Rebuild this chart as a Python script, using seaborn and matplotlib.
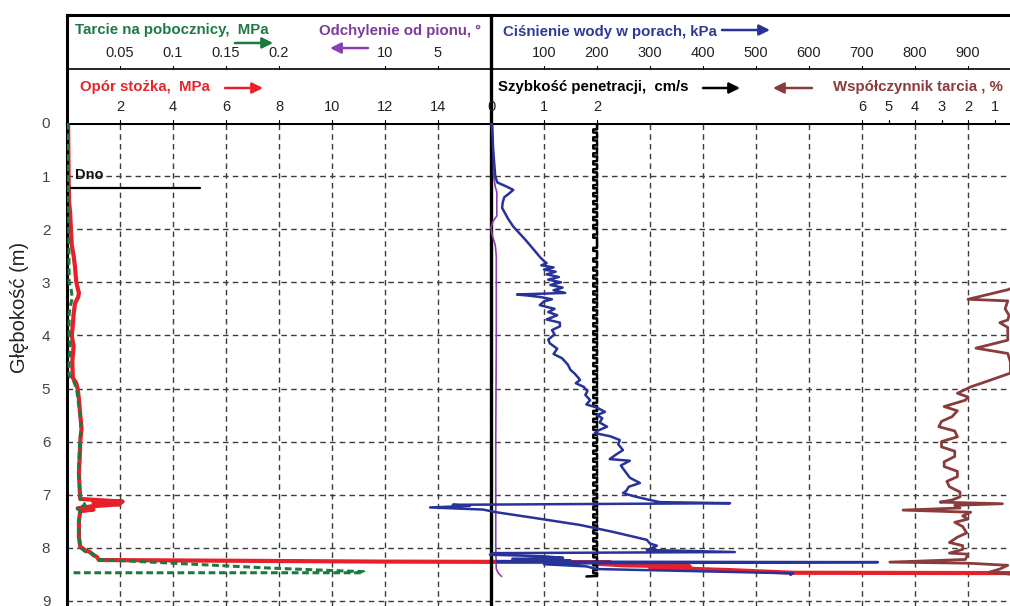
import numpy as np
import pandas as pd
import matplotlib
matplotlib.use("Agg")
import matplotlib.pyplot as plt
import matplotlib.transforms as mtransforms
import seaborn as sns

# ---------------- CPT sounding profiles (depth [m], value) ----------------
qc_profile = [  # cone resistance, MPa
    (0.00, 0.04), (0.50, 0.05), (1.00, 0.06), (1.50, 0.08), (1.70, 0.12), (2.00, 0.15),
    (2.30, 0.18), (2.50, 0.25), (2.70, 0.30), (3.00, 0.35), (3.20, 0.45), (3.28, 0.42),
    (3.40, 0.30), (3.60, 0.25), (3.80, 0.22), (4.00, 0.18), (4.20, 0.25), (4.50, 0.20),
    (4.80, 0.22), (4.90, 0.35), (5.00, 0.40), (5.20, 0.45), (5.50, 0.50), (5.75, 0.55),
    (6.00, 0.50), (6.30, 0.48), (6.60, 0.45), (6.90, 0.48), (7.08, 0.50), (7.13, 2.10),
    (7.15, 1.00), (7.18, 2.00), (7.22, 0.90), (7.26, 0.40), (7.28, 1.00), (7.31, 0.50),
    (7.50, 0.45), (7.80, 0.45), (7.98, 0.50), (8.05, 0.70), (8.08, 0.87), (8.14, 1.00),
    (8.17, 1.13), (8.23, 1.20), (8.26, 12.0), (8.27, 20.5), (8.30, 20.0), (8.33, 21.0),
    (8.35, 23.5), (8.37, 22.0), (8.42, 25.0), (8.47, 27.4), (8.48, 40.0),
]
fs_profile = [  # sleeve friction, MPa
    (0.00, 0.001), (3.00, 0.002), (3.15, 0.004), (3.30, 0.005), (3.45, 0.003), (3.60, 0.002),
    (4.00, 0.002), (4.20, 0.003), (4.50, 0.002), (4.75, 0.002), (4.85, 0.006), (5.00, 0.009),
    (5.30, 0.011), (5.60, 0.013), (5.80, 0.013), (6.00, 0.012), (6.50, 0.011), (7.00, 0.012),
    (7.10, 0.013), (7.16, 0.016), (7.20, 0.017), (7.25, 0.010), (7.30, 0.012), (7.60, 0.011),
    (7.90, 0.012), (8.00, 0.013), (8.07, 0.017), (8.12, 0.025), (8.18, 0.028), (8.22, 0.030),
    (8.26, 0.070), (8.30, 0.110), (8.34, 0.150), (8.38, 0.190), (8.42, 0.240), (8.45, 0.280),
    (8.47, 0.280), (8.47, 0.003),
]
incl_profile = [  # inclination, degrees
    (0.00, 0.00), (0.30, -0.20), (1.00, -0.25), (1.20, -0.40), (1.30, -0.55), (1.75, -0.55),
    (1.85, -0.20), (1.97, 0.00), (2.10, -0.10), (2.30, -0.40), (2.50, -0.50), (4.00, -0.50),
    (6.00, -0.45), (8.00, -0.45), (8.40, -0.50), (8.48, -0.70), (8.54, -1.00),
]
u_profile = [  # pore water pressure, kPa
    (0.00, 2), (0.50, 4), (1.00, 8), (1.12, 12), (1.20, 30), (1.26, 42), (1.32, 35),
    (1.40, 25), (1.50, 22), (1.60, 21), (1.80, 32), (1.95, 42), (2.20, 65), (2.40, 82),
    (2.52, 92), (2.60, 100), (2.64, 105), (2.68, 95), (2.72, 118), (2.76, 100), (2.80, 122),
    (2.85, 105), (2.90, 128), (2.95, 108), (3.00, 132), (3.05, 112), (3.10, 135), (3.15, 118),
    (3.20, 140), (3.23, 49), (3.25, 70), (3.28, 95), (3.32, 115), (3.36, 100), (3.43, 92),
    (3.50, 120), (3.56, 108), (3.62, 125), (3.70, 105), (3.76, 130), (3.83, 130), (3.90, 115),
    (3.98, 120), (4.08, 108), (4.15, 111), (4.25, 125), (4.35, 118), (4.43, 134), (4.55, 145),
    (4.65, 150), (4.72, 158), (4.80, 165), (4.84, 168), (4.90, 160), (4.97, 175), (5.05, 182),
    (5.12, 178), (5.22, 187), (5.30, 180), (5.36, 200), (5.44, 215), (5.50, 200), (5.56, 210),
    (5.64, 205), (5.72, 219), (5.80, 200), (5.84, 196), (5.90, 225), (5.97, 243), (6.05, 240),
    (6.16, 249), (6.25, 235), (6.33, 224), (6.36, 262), (6.45, 245), (6.52, 250), (6.60, 256),
    (6.68, 262), (6.78, 281), (6.85, 260), (6.93, 255), (6.97, 249), (7.03, 270), (7.10, 300),
    (7.14, 319), (7.16, 451), (7.19, -72), (7.21, -40), (7.24, -115), (7.28, -15), (7.33, 10),
    (7.45, 90), (7.57, 168), (7.70, 230), (7.85, 294), (7.92, 300), (7.96, 313), (8.02, 300),
    (8.04, 294), (8.08, 460), (8.10, 5), (8.13, -2), (8.16, 100), (8.19, 136), (8.21, 40),
    (8.24, 150), (8.26, 10), (8.27, 730), (8.29, 190), (8.31, 100), (8.35, 180), (8.40, 200),
    (8.48, 570), (8.51, 565),
]
rf_profile = [  # friction ratio, %
    (3.08, 0.2), (3.14, 0.5), (3.32, 2.0), (3.35, 0.5), (3.50, 0.6), (3.62, 0.45), (3.71, 0.5),
    (3.76, 0.8), (3.85, 0.5), (4.09, 0.5), (4.24, 1.7), (4.34, 0.5), (4.50, 0.4), (4.71, 0.4),
    (4.85, 1.2), (4.97, 1.9), (5.09, 2.4), (5.16, 2.0), (5.22, 2.1), (5.34, 2.9), (5.42, 2.4),
    (5.53, 2.6), (5.62, 3.0), (5.72, 3.1), (5.80, 2.5), (5.91, 2.4), (6.00, 3.0), (6.10, 3.0),
    (6.18, 2.5), (6.28, 2.5), (6.38, 2.9), (6.47, 2.9), (6.56, 2.4), (6.66, 2.4), (6.75, 2.8),
    (6.85, 2.7), (6.95, 2.3), (7.04, 2.3), (7.10, 2.6), (7.14, 3.05), (7.17, 0.7), (7.20, 2.5),
    (7.25, 2.3), (7.29, 4.45), (7.33, 1.9), (7.40, 2.2), (7.46, 2.0), (7.52, 2.5), (7.60, 2.2),
    (7.72, 2.05), (7.80, 2.4), (7.90, 2.7), (7.96, 2.2), (8.03, 2.2), (8.10, 2.7), (8.12, 2.0),
    (8.22, 2.1), (8.27, 4.95), (8.29, 2.0), (8.33, 0.5), (8.40, 0.8), (8.46, 1.2), (8.50, 0.3),
]
# penetration rate: steady push with short dips at the rod changes
rate_start = 0.27
rate_steady = 2.0
rate_dip = 1.93
rate_end = 1.80
rate_dip_depths = [
    0.12, 0.27, 0.42, 0.57, 0.72, 0.87, 1.02, 1.17, 1.32, 1.47, 1.62, 1.77, 1.92, 2.10,
    2.35, 2.55, 2.72, 2.87, 3.02, 3.17, 3.32, 3.47, 3.62, 3.77, 3.92, 4.07, 4.22, 4.37,
    4.52, 4.67, 4.82, 4.97, 5.12, 5.27, 5.42, 5.57, 5.72, 5.87, 6.02, 6.17, 6.32, 6.47,
    6.62, 6.77, 6.92, 7.07, 7.22, 7.37, 7.52, 7.67, 7.82, 7.97, 8.12, 8.27, 8.42,
]
rate_dip_length = 0.06
rate_top_depth = 0.01
rate_bottom_depth = 8.53

seabed_depth = 1.22
seabed_label = "Dno"

depth_ticks = list(range(10))
qc_ticks = [2, 4, 6, 8, 10, 12, 14]
fs_ticks = [0.05, 0.1, 0.15, 0.2]
incl_ticks = [10, 5]
u_ticks = [100, 200, 300, 400, 500, 600, 700, 800, 900]
rate_ticks = [0, 1, 2]
rf_ticks = [6, 5, 4, 3, 2, 1]

# ---------------- tables ----------------
def to_frame(profile, name):
    return pd.DataFrame(profile, columns=["depth", name])

qc_df = to_frame(qc_profile, "qc")
fs_df = to_frame(fs_profile, "fs")
incl_df = to_frame(incl_profile, "incl")
u_df = to_frame(u_profile, "u")
rf_df = to_frame(rf_profile, "rf")

rate_rows = [(rate_top_depth, rate_start), (rate_top_depth, rate_steady)]
for d in rate_dip_depths:
    rate_rows += [(d, rate_steady), (d, rate_dip), (d + rate_dip_length, rate_dip),
                  (d + rate_dip_length, rate_steady)]
rate_rows += [(rate_bottom_depth, rate_steady), (rate_bottom_depth + 0.01, rate_end)]
rate_df = pd.DataFrame(rate_rows, columns=["depth", "rate"])

# ---------------- style ----------------
sns.set_style("white")
plt.rcParams["font.family"] = ["Liberation Sans", "DejaVu Sans"]
NARROW = ["Liberation Sans Narrow", "Liberation Sans", "DejaVu Sans"]

C_RED, C_GREEN, C_PURPLE = "#e8202a", "#1b7a3e", "#8a3fb0"
C_BLUE, C_BROWN, C_BLACK = "#28339a", "#8a3c3c", "#000000"
T_GREEN, T_PURPLE, T_BLUE, T_RED, T_BROWN = "#1d7a45", "#7b3c9c", "#2e3a97", "#e3262d", "#8b3b3b"

W, H = 1010, 606
fig = plt.figure(figsize=(W / 100, H / 100), dpi=100)

# plot frame in pixels (right edge runs past the canvas)
PX_L, PX_R, PX_TOP, PX_HDR = 67, 1021, 123, 15
left = PX_L / W
width = (PX_R - PX_L) / W
plot_h = (H - PX_TOP) / H
ax = fig.add_axes([left, 0, width, plot_h])
hdr = fig.add_axes([left, plot_h, width, (PX_TOP - PX_HDR) / H])

DEPTH_MAX = (H - PX_TOP) / 53.1

# all quantities share the depth axis; each has its own horizontal scale
ax_fs = ax.twiny()
ax_incl = ax.twiny()
ax_rate = ax.twiny()
ax_rf = ax.twiny()
ax_u = ax.twiny()

sns.lineplot(data=qc_df, x="qc", y="depth", sort=False, estimator=None, orient="y",
             ax=ax, color=C_RED, lw=3.0)
sns.lineplot(data=fs_df, x="fs", y="depth", sort=False, estimator=None, orient="y",
             ax=ax_fs, color=C_GREEN, lw=2.2, linestyle=(0, (2.2, 1.2)))
sns.lineplot(data=incl_df, x="incl", y="depth", sort=False, estimator=None, orient="y",
             ax=ax_incl, color=C_PURPLE, lw=1.2)
sns.lineplot(data=rate_df, x="rate", y="depth", sort=False, estimator=None, orient="y",
             ax=ax_rate, color=C_BLACK, lw=1.8)
sns.lineplot(data=rf_df, x="rf", y="depth", sort=False, estimator=None, orient="y",
             ax=ax_rf, color=C_BROWN, lw=2.0)
sns.lineplot(data=u_df, x="u", y="depth", sort=False, estimator=None, orient="y",
             ax=ax_u, color=C_BLUE, lw=1.8)

ax.set_xlim(0, 36)          # 16 MPa at the panel divider
ax_fs.set_xlim(0, 0.9)
ax_incl.set_xlim(40, -50)   # 0 deg at the panel divider, increasing leftwards
ax_rate.set_xlim(-8, 10)
ax_rf.set_xlim(36, 0)       # increasing leftwards from the right edge
ax_u.set_xlim(-800, 1000)
ax.set_ylim(DEPTH_MAX, 0)

for a in (ax_fs, ax_incl, ax_rate, ax_rf, ax_u):
    a.set_xlabel("")
    a.set_ylabel("")
    a.set_xticks([])
    for s in a.spines.values():
        s.set_visible(False)

# grid and frame of the plot area
ax.set_xticks(np.arange(0, 37, 2))
ax.set_yticks(depth_ticks)
ax.set_yticklabels([str(d) for d in depth_ticks], family=NARROW, fontsize=11, color="#444444")
ax.tick_params(axis="x", length=0, labelbottom=False, labeltop=False)
ax.tick_params(axis="y", direction="out", length=3, width=1, pad=9, color="black")
ax.grid(True, color="#3c3c3c", linestyle=(0, (4, 3)), linewidth=1.0)
ax.set_xlabel("")
ax.set_ylabel("Głębokość (m)", fontsize=14.5, color="#222222")
ax.yaxis.set_label_coords(-0.040, 0.619)
for s in ("right", "bottom"):
    ax.spines[s].set_visible(False)
for s in ("left", "top"):
    ax.spines[s].set_linewidth(2.2)
    ax.spines[s].set_color("black")
ax.axvline(16, color="black", lw=2.4, zorder=3)

# seabed marker
ax.plot([0, 5.0], [seabed_depth, seabed_depth], color="black", lw=1.6)
ax.text(0.3, seabed_depth - 0.24, seabed_label, fontsize=10.5, fontweight="bold",
        ha="left", va="center", color="#111111")

# ---------------- header with the scales ----------------
hdr.set_xlim(0, 1)
hdr.set_ylim(0, 1)
hdr.set_xticks([])
hdr.set_yticks([])
hdr.spines["bottom"].set_visible(False)
for s in ("left", "top", "right"):
    hdr.spines[s].set_linewidth(2.2)
    hdr.spines[s].set_color("black")
hdr.axhline(0.5, color="black", lw=1.2)
hdr.plot([16, 16], [0, 1], transform=mtransforms.blended_transform_factory(ax.transData, hdr.transAxes),
         color="black", lw=2.4, clip_on=False)

ROW1_LAB, ROW1_BASE = 0.648, 0.5
ROW2_LAB, ROW2_BASE = 0.148, 0.0


def header_scale(qax, ticks, y_lab, y_base):
    tr = mtransforms.blended_transform_factory(qax.transData, hdr.transAxes)
    for t in ticks:
        hdr.text(t, y_lab, f"{t:g}", transform=tr, ha="center", va="center",
                 fontsize=10.5, family=NARROW, color="#222222")
        hdr.plot([t, t], [y_base, y_base + 0.03], transform=tr, color="black", lw=0.8)


header_scale(ax_fs, fs_ticks, ROW1_LAB, ROW1_BASE)
header_scale(ax_incl, incl_ticks, ROW1_LAB, ROW1_BASE)
header_scale(ax_u, u_ticks, ROW1_LAB, ROW1_BASE)
header_scale(ax, qc_ticks, ROW2_LAB, ROW2_BASE)
header_scale(ax_rate, rate_ticks, ROW2_LAB, ROW2_BASE)
header_scale(ax_rf, rf_ticks, ROW2_LAB, ROW2_BASE)


def title(x, y, s, color):
    hdr.text(x, y, s, ha="left", va="center", fontsize=10.8, fontweight="bold", color=color)


def arrow(x0, x1, y, color):
    hdr.annotate("", xy=(x1, y), xytext=(x0, y), xycoords="axes fraction",
                 arrowprops=dict(arrowstyle="-|>", color=color, lw=1.8,
                                 mutation_scale=16, shrinkA=0, shrinkB=0))


title(0.0084, 0.861, "Tarcie na pobocznicy,  MPa", T_GREEN)
arrow(0.176, 0.216, 0.741, C_GREEN)
title(0.264, 0.852, "Odchylenie od pionu, °", T_PURPLE)
arrow(0.3155, 0.2757, 0.694, C_PURPLE)
title(0.457, 0.843, "Ciśnienie wody w porach, kPa", T_BLUE)
arrow(0.6866, 0.7369, 0.861, C_BLUE)

title(0.0136, 0.333, "Opór stożka,  MPa", T_RED)
arrow(0.1656, 0.2055, 0.324, C_RED)
title(0.4518, 0.333, "Szybkość penetracji,  cm/s", C_BLACK)
arrow(0.6667, 0.7055, 0.324, C_BLACK)
arrow(0.7809, 0.7400, 0.324, C_BROWN)
title(0.803, 0.333, "Współczynnik tarcia , %", T_BROWN)

fig.savefig("out.png", dpi=100)
